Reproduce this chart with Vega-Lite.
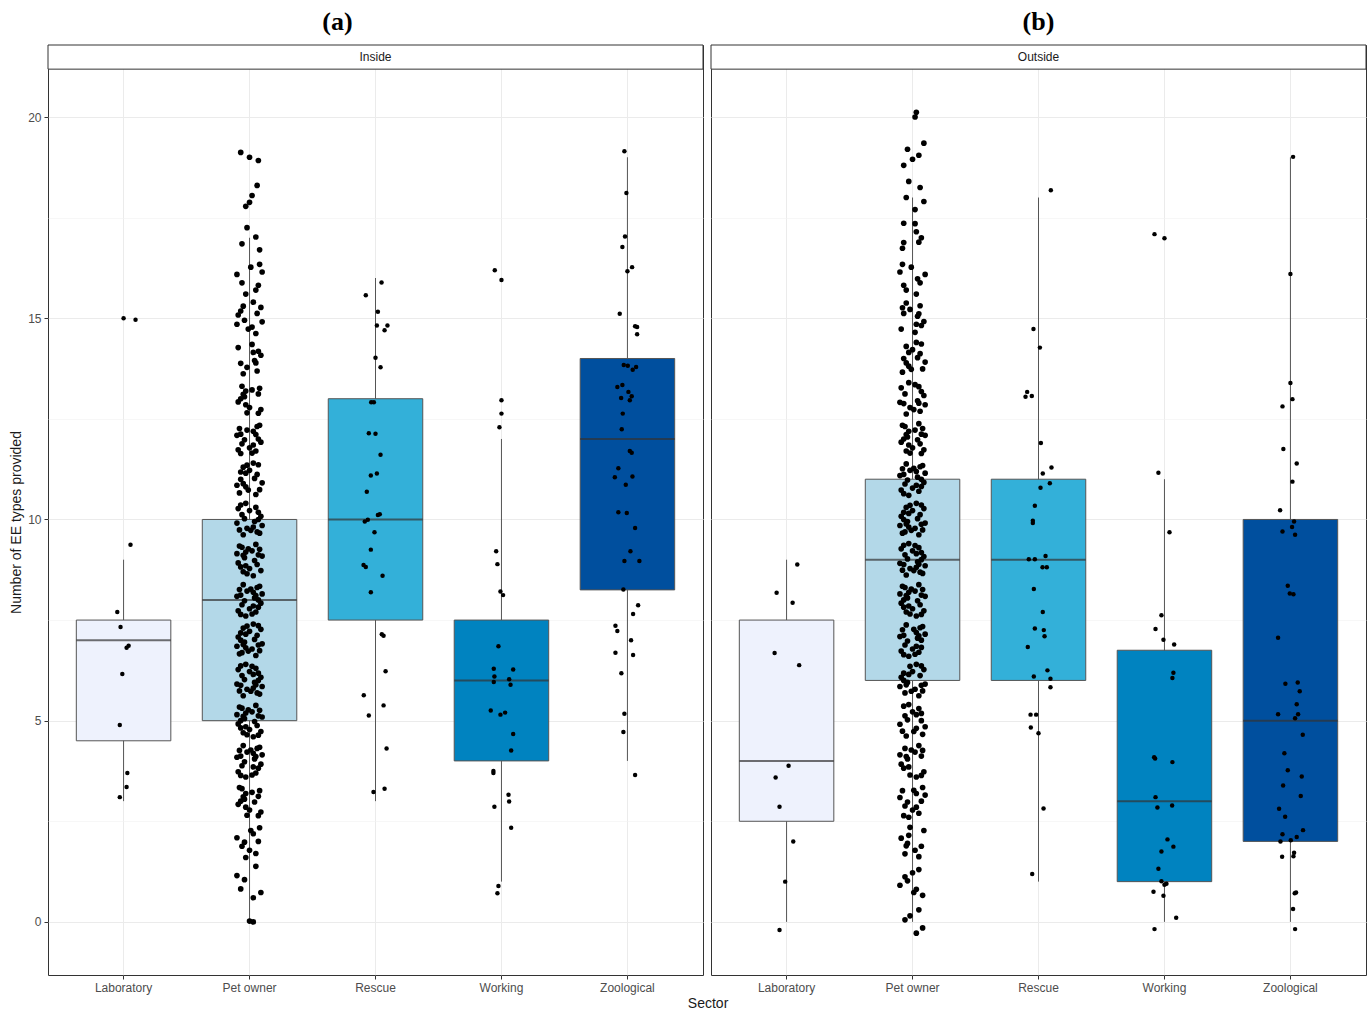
{
"$schema": "https://vega.github.io/schema/vega-lite/v6.json",
"background": "white",
"padding": {"left": 9, "top": 8, "right": 2, "bottom": 2},
"config": {
  "font": "Liberation Sans",
  "view": {"stroke": "#333333", "strokeWidth": 1},
  "axis": {"labelColor": "#4d4d4d", "labelFontSize": 12, "tickColor": "#333333", "tickSize": 4, "labelPadding": 3, "titleFontSize": 14, "titleFontWeight": "normal", "titleColor": "#1a1a1a", "gridColor": "#ebebeb", "domain": false}
},
"title": {"text": "Sector", "orient": "bottom", "anchor": "middle", "fontSize": 14, "fontWeight": "normal", "font": "Liberation Sans", "color": "#1a1a1a", "offset": 3, "dx": 20},
"spacing": 6,
"datasets": {
"boxI": [
{"s":"Laboratory","lo":3,"q1":4.5,"med":7,"q3":7.5,"hi":9},
{"s":"Pet owner","lo":0,"q1":5,"med":8,"q3":10,"hi":17},
{"s":"Rescue","lo":3,"q1":7.5,"med":10,"q3":13,"hi":16},
{"s":"Working","lo":1,"q1":4,"med":6,"q3":7.5,"hi":12},
{"s":"Zoological","lo":4,"q1":8.25,"med":12,"q3":14,"hi":19}
],
"boxO": [
{"s":"Laboratory","lo":0,"q1":2.5,"med":4,"q3":7.5,"hi":9},
{"s":"Pet owner","lo":0,"q1":6,"med":9,"q3":11,"hi":18},
{"s":"Rescue","lo":1,"q1":6,"med":9,"q3":11,"hi":18},
{"s":"Working","lo":0,"q1":1,"med":3,"q3":6.75,"hi":11},
{"s":"Zoological","lo":0,"q1":2,"med":5,"q3":10,"hi":19}
],
"othI": [
{"s":"Laboratory","y":15.0,"j":0.0},{"s":"Laboratory","y":14.96,"j":0.095},{"s":"Laboratory","y":9.37,"j":0.055},{"s":"Laboratory","y":7.7,"j":-0.05},{"s":"Laboratory","y":7.33,"j":-0.024},{"s":"Laboratory","y":6.86,"j":0.04},{"s":"Laboratory","y":6.81,"j":0.024},{"s":"Laboratory","y":6.16,"j":-0.01},{"s":"Laboratory","y":4.89,"j":-0.03},{"s":"Laboratory","y":3.7,"j":0.03},{"s":"Laboratory","y":3.35,"j":0.024},{"s":"Laboratory","y":3.1,"j":-0.03},
{"s":"Rescue","y":15.89,"j":0.048},{"s":"Rescue","y":15.57,"j":-0.077},{"s":"Rescue","y":15.16,"j":0.019},{"s":"Rescue","y":14.82,"j":0.011},{"s":"Rescue","y":14.82,"j":0.095},{"s":"Rescue","y":14.7,"j":0.072},{"s":"Rescue","y":14.02,"j":0.0},{"s":"Rescue","y":13.78,"j":0.04},{"s":"Rescue","y":12.91,"j":-0.034},{"s":"Rescue","y":12.91,"j":-0.013},{"s":"Rescue","y":12.14,"j":-0.053},{"s":"Rescue","y":12.13,"j":0.0},{"s":"Rescue","y":11.61,"j":0.04},{"s":"Rescue","y":11.09,"j":-0.037},{"s":"Rescue","y":11.14,"j":0.011},{"s":"Rescue","y":10.69,"j":-0.069},{"s":"Rescue","y":10.11,"j":0.019},{"s":"Rescue","y":10.13,"j":0.034},{"s":"Rescue","y":9.95,"j":-0.085},{"s":"Rescue","y":9.99,"j":-0.061},{"s":"Rescue","y":9.68,"j":-0.008},{"s":"Rescue","y":9.25,"j":-0.037},{"s":"Rescue","y":8.87,"j":-0.095},{"s":"Rescue","y":8.82,"j":-0.077},{"s":"Rescue","y":8.6,"j":0.056},{"s":"Rescue","y":8.19,"j":-0.037},{"s":"Rescue","y":7.15,"j":0.05},{"s":"Rescue","y":7.11,"j":0.064},{"s":"Rescue","y":6.23,"j":0.08},{"s":"Rescue","y":5.63,"j":-0.093},{"s":"Rescue","y":5.38,"j":0.064},{"s":"Rescue","y":5.13,"j":-0.053},{"s":"Rescue","y":4.31,"j":0.088},{"s":"Rescue","y":3.23,"j":-0.016},{"s":"Rescue","y":3.31,"j":0.072},
{"s":"Working","y":16.19,"j":-0.053},{"s":"Working","y":15.95,"j":0.0},{"s":"Working","y":12.96,"j":0.0},{"s":"Working","y":12.63,"j":0.0},{"s":"Working","y":12.29,"j":-0.016},{"s":"Working","y":9.21,"j":-0.042},{"s":"Working","y":8.89,"j":-0.032},{"s":"Working","y":8.21,"j":-0.008},{"s":"Working","y":8.12,"j":0.013},{"s":"Working","y":6.85,"j":-0.024},{"s":"Working","y":6.29,"j":-0.061},{"s":"Working","y":6.27,"j":0.093},{"s":"Working","y":6.1,"j":-0.056},{"s":"Working","y":5.96,"j":-0.061},{"s":"Working","y":6.03,"j":0.061},{"s":"Working","y":5.89,"j":0.072},{"s":"Working","y":5.25,"j":-0.085},{"s":"Working","y":5.15,"j":-0.008},{"s":"Working","y":5.2,"j":0.029},{"s":"Working","y":4.67,"j":0.093},{"s":"Working","y":4.26,"j":0.077},{"s":"Working","y":3.75,"j":-0.064},{"s":"Working","y":3.7,"j":-0.064},{"s":"Working","y":3.16,"j":0.056},{"s":"Working","y":2.99,"j":0.061},{"s":"Working","y":2.86,"j":-0.056},{"s":"Working","y":2.34,"j":0.077},{"s":"Working","y":0.89,"j":-0.024},{"s":"Working","y":0.71,"j":-0.032},
{"s":"Zoological","y":19.15,"j":-0.024},{"s":"Zoological","y":18.11,"j":-0.008},{"s":"Zoological","y":17.03,"j":-0.019},{"s":"Zoological","y":16.77,"j":-0.04},{"s":"Zoological","y":16.17,"j":0.0},{"s":"Zoological","y":16.27,"j":0.037},{"s":"Zoological","y":15.11,"j":-0.061},{"s":"Zoological","y":14.8,"j":0.061},{"s":"Zoological","y":14.78,"j":0.077},{"s":"Zoological","y":14.6,"j":0.077},{"s":"Zoological","y":13.84,"j":-0.029},{"s":"Zoological","y":13.82,"j":0.003},{"s":"Zoological","y":13.79,"j":0.069},{"s":"Zoological","y":13.72,"j":0.042},{"s":"Zoological","y":13.29,"j":-0.08},{"s":"Zoological","y":13.34,"j":-0.04},{"s":"Zoological","y":13.17,"j":0.008},{"s":"Zoological","y":13.02,"j":-0.05},{"s":"Zoological","y":13.06,"j":0.034},{"s":"Zoological","y":12.96,"j":0.019},{"s":"Zoological","y":12.63,"j":-0.037},{"s":"Zoological","y":12.24,"j":-0.045},{"s":"Zoological","y":11.7,"j":0.019},{"s":"Zoological","y":11.66,"j":0.034},{"s":"Zoological","y":11.27,"j":-0.072},{"s":"Zoological","y":11.05,"j":-0.1},{"s":"Zoological","y":11.07,"j":0.04},{"s":"Zoological","y":10.86,"j":-0.013},{"s":"Zoological","y":10.18,"j":-0.072},{"s":"Zoological","y":10.16,"j":-0.005},{"s":"Zoological","y":9.79,"j":0.061},{"s":"Zoological","y":9.21,"j":0.024},{"s":"Zoological","y":8.97,"j":-0.024},{"s":"Zoological","y":8.97,"j":0.095},{"s":"Zoological","y":8.26,"j":-0.032},{"s":"Zoological","y":7.87,"j":0.085},{"s":"Zoological","y":7.65,"j":0.045},{"s":"Zoological","y":7.36,"j":-0.095},{"s":"Zoological","y":7.23,"j":-0.08},{"s":"Zoological","y":7.0,"j":0.029},{"s":"Zoological","y":6.69,"j":-0.095},{"s":"Zoological","y":6.63,"j":0.045},{"s":"Zoological","y":6.18,"j":-0.048},{"s":"Zoological","y":5.17,"j":-0.024},{"s":"Zoological","y":4.72,"j":-0.032},{"s":"Zoological","y":3.65,"j":0.061}
],
"othO": [
{"s":"Laboratory","y":8.88,"j":0.085},{"s":"Laboratory","y":8.18,"j":-0.079},{"s":"Laboratory","y":7.93,"j":0.048},{"s":"Laboratory","y":6.68,"j":-0.095},{"s":"Laboratory","y":6.38,"j":0.1},{"s":"Laboratory","y":3.88,"j":0.016},{"s":"Laboratory","y":3.59,"j":-0.087},{"s":"Laboratory","y":2.86,"j":-0.056},{"s":"Laboratory","y":2.0,"j":0.053},{"s":"Laboratory","y":1.0,"j":-0.011},{"s":"Laboratory","y":-0.2,"j":-0.056},
{"s":"Rescue","y":18.18,"j":0.098},{"s":"Rescue","y":14.73,"j":-0.04},{"s":"Rescue","y":14.27,"j":0.011},{"s":"Rescue","y":13.17,"j":-0.09},{"s":"Rescue","y":13.07,"j":-0.053},{"s":"Rescue","y":13.05,"j":-0.103},{"s":"Rescue","y":11.9,"j":0.019},{"s":"Rescue","y":11.14,"j":0.034},{"s":"Rescue","y":11.29,"j":0.103},{"s":"Rescue","y":10.79,"j":0.016},{"s":"Rescue","y":10.9,"j":0.09},{"s":"Rescue","y":10.34,"j":-0.029},{"s":"Rescue","y":9.97,"j":-0.045},{"s":"Rescue","y":9.91,"j":-0.045},{"s":"Rescue","y":9.01,"j":-0.077},{"s":"Rescue","y":9.01,"j":-0.029},{"s":"Rescue","y":9.09,"j":0.056},{"s":"Rescue","y":8.81,"j":0.032},{"s":"Rescue","y":8.81,"j":0.066},{"s":"Rescue","y":8.27,"j":-0.037},{"s":"Rescue","y":7.7,"j":0.034},{"s":"Rescue","y":7.29,"j":-0.029},{"s":"Rescue","y":7.25,"j":0.042},{"s":"Rescue","y":7.1,"j":0.048},{"s":"Rescue","y":6.83,"j":-0.085},{"s":"Rescue","y":6.1,"j":-0.037},{"s":"Rescue","y":6.25,"j":0.071},{"s":"Rescue","y":6.04,"j":0.095},{"s":"Rescue","y":5.83,"j":0.095},{"s":"Rescue","y":5.15,"j":-0.063},{"s":"Rescue","y":5.15,"j":-0.019},{"s":"Rescue","y":4.83,"j":-0.061},{"s":"Rescue","y":4.69,"j":0.0},{"s":"Rescue","y":2.82,"j":0.04},{"s":"Rescue","y":1.19,"j":-0.05},
{"s":"Working","y":17.09,"j":-0.079},{"s":"Working","y":16.99,"j":0.0},{"s":"Working","y":11.16,"j":-0.048},{"s":"Working","y":9.68,"j":0.04},{"s":"Working","y":7.62,"j":-0.024},{"s":"Working","y":7.28,"j":-0.071},{"s":"Working","y":7.01,"j":-0.008},{"s":"Working","y":6.89,"j":0.077},{"s":"Working","y":6.19,"j":0.071},{"s":"Working","y":6.06,"j":0.063},{"s":"Working","y":4.09,"j":-0.082},{"s":"Working","y":4.06,"j":-0.074},{"s":"Working","y":3.97,"j":0.063},{"s":"Working","y":3.1,"j":-0.071},{"s":"Working","y":2.84,"j":-0.056},{"s":"Working","y":2.89,"j":0.061},{"s":"Working","y":2.05,"j":0.024},{"s":"Working","y":1.75,"j":-0.024},{"s":"Working","y":1.87,"j":0.071},{"s":"Working","y":1.32,"j":-0.048},{"s":"Working","y":1.01,"j":-0.024},{"s":"Working","y":0.92,"j":0.0},{"s":"Working","y":0.95,"j":0.016},{"s":"Working","y":0.75,"j":-0.087},{"s":"Working","y":0.65,"j":-0.008},{"s":"Working","y":0.1,"j":0.093},{"s":"Working","y":-0.18,"j":-0.079},
{"s":"Zoological","y":19.01,"j":0.021},{"s":"Zoological","y":16.1,"j":0.0},{"s":"Zoological","y":13.39,"j":0.0},{"s":"Zoological","y":12.99,"j":0.016},{"s":"Zoological","y":12.81,"j":-0.063},{"s":"Zoological","y":11.75,"j":-0.056},{"s":"Zoological","y":11.39,"j":0.05},{"s":"Zoological","y":10.94,"j":0.016},{"s":"Zoological","y":10.23,"j":-0.082},{"s":"Zoological","y":9.95,"j":0.029},{"s":"Zoological","y":9.81,"j":0.013},{"s":"Zoological","y":9.7,"j":-0.063},{"s":"Zoological","y":9.62,"j":0.037},{"s":"Zoological","y":8.35,"j":-0.021},{"s":"Zoological","y":8.16,"j":-0.005},{"s":"Zoological","y":8.14,"j":0.024},{"s":"Zoological","y":7.06,"j":-0.098},{"s":"Zoological","y":5.92,"j":-0.04},{"s":"Zoological","y":5.95,"j":0.058},{"s":"Zoological","y":5.73,"j":0.074},{"s":"Zoological","y":5.41,"j":0.05},{"s":"Zoological","y":5.16,"j":-0.098},{"s":"Zoological","y":5.16,"j":0.061},{"s":"Zoological","y":5.06,"j":0.037},{"s":"Zoological","y":4.65,"j":0.098},{"s":"Zoological","y":4.19,"j":-0.048},{"s":"Zoological","y":3.77,"j":-0.021},{"s":"Zoological","y":3.61,"j":0.09},{"s":"Zoological","y":3.39,"j":-0.058},{"s":"Zoological","y":3.13,"j":0.082},{"s":"Zoological","y":2.81,"j":-0.09},{"s":"Zoological","y":2.61,"j":-0.042},{"s":"Zoological","y":2.28,"j":0.1},{"s":"Zoological","y":2.18,"j":-0.063},{"s":"Zoological","y":2.11,"j":0.05},{"s":"Zoological","y":2.0,"j":-0.079},{"s":"Zoological","y":2.03,"j":0.003},{"s":"Zoological","y":1.62,"j":-0.066},{"s":"Zoological","y":1.72,"j":0.029},{"s":"Zoological","y":1.63,"j":0.024},{"s":"Zoological","y":0.71,"j":0.034},{"s":"Zoological","y":0.73,"j":0.045},{"s":"Zoological","y":0.32,"j":0.021},{"s":"Zoological","y":-0.18,"j":0.037}
],
"petI": [
{"y":0.02,"j":0.0},{"y":0.0,"j":0.03},
{"y":0.73,"j":0.09},{"y":1.05,"j":-0.04},{"y":1.38,"j":0.05},{"y":0.82,"j":-0.07},{"y":1.15,"j":-0.1},{"y":0.6,"j":0.03},
{"y":1.6,"j":-0.03},{"y":2.27,"j":0.01},{"y":1.88,"j":-0.06},{"y":2.09,"j":-0.1},{"y":1.7,"j":0.05},{"y":2.34,"j":0.08},{"y":1.98,"j":-0.04},{"y":2.19,"j":0.03},{"y":1.78,"j":0.0},{"y":2.0,"j":0.07},
{"y":3.34,"j":-0.08},{"y":2.98,"j":0.04},{"y":3.19,"j":-0.03},{"y":2.78,"j":0.0},{"y":3.0,"j":-0.07},{"y":2.64,"j":0.07},{"y":3.26,"j":0.08},{"y":2.85,"j":-0.03},{"y":3.11,"j":-0.05},{"y":2.65,"j":-0.02},{"y":3.12,"j":0.07},{"y":3.31,"j":-0.06},{"y":2.92,"j":-0.09},{"y":3.22,"j":0.02},{"y":2.73,"j":0.09},{"y":3.05,"j":-0.04},
{"y":3.64,"j":-0.07},{"y":4.26,"j":-0.08},{"y":3.85,"j":0.03},{"y":4.11,"j":0.05},{"y":3.65,"j":0.02},{"y":4.12,"j":-0.07},{"y":4.31,"j":0.06},{"y":3.92,"j":0.09},{"y":4.22,"j":-0.02},{"y":3.73,"j":-0.09},{"y":4.05,"j":0.04},{"y":4.38,"j":-0.05},{"y":3.82,"j":0.07},{"y":4.15,"j":0.1},{"y":3.6,"j":-0.03},{"y":4.27,"j":0.01},{"y":3.88,"j":-0.06},{"y":4.09,"j":-0.1},{"y":3.7,"j":0.05},{"y":4.34,"j":0.08},{"y":3.98,"j":-0.04},{"y":4.19,"j":0.03},
{"y":4.65,"j":-0.02},{"y":5.12,"j":0.07},{"y":5.31,"j":-0.06},{"y":4.92,"j":-0.09},{"y":5.22,"j":0.02},{"y":4.73,"j":0.09},{"y":5.05,"j":-0.04},{"y":5.38,"j":0.05},{"y":4.82,"j":-0.07},{"y":5.15,"j":-0.1},{"y":4.6,"j":0.03},{"y":5.27,"j":-0.01},{"y":4.88,"j":0.06},{"y":5.09,"j":0.1},{"y":4.7,"j":-0.05},{"y":5.34,"j":-0.08},{"y":4.98,"j":0.04},{"y":5.19,"j":-0.03},{"y":4.78,"j":0.0},{"y":5.0,"j":-0.07},{"y":4.64,"j":0.07},{"y":5.26,"j":0.08},{"y":4.85,"j":-0.03},{"y":5.11,"j":-0.05},
{"y":6.35,"j":0.02},{"y":5.88,"j":-0.07},{"y":5.69,"j":0.06},{"y":6.08,"j":0.09},{"y":5.78,"j":-0.02},{"y":6.27,"j":-0.09},{"y":5.95,"j":0.04},{"y":5.62,"j":-0.05},{"y":6.18,"j":0.07},{"y":5.85,"j":0.1},{"y":6.4,"j":-0.03},{"y":5.73,"j":0.01},{"y":6.12,"j":-0.06},{"y":5.91,"j":-0.1},{"y":6.3,"j":0.05},{"y":5.66,"j":0.08},{"y":6.02,"j":-0.04},{"y":5.81,"j":0.03},{"y":6.22,"j":0.0},{"y":6.0,"j":0.07},{"y":6.36,"j":-0.07},{"y":5.74,"j":-0.08},{"y":6.15,"j":0.03},{"y":5.89,"j":0.05},
{"y":7.35,"j":-0.02},{"y":6.88,"j":0.07},{"y":6.69,"j":-0.06},{"y":7.08,"j":-0.09},{"y":6.78,"j":0.02},{"y":7.27,"j":0.09},{"y":6.95,"j":-0.04},{"y":6.62,"j":0.05},{"y":7.18,"j":-0.07},{"y":6.85,"j":-0.1},{"y":7.4,"j":0.03},{"y":6.73,"j":-0.01},{"y":7.12,"j":0.06},{"y":6.91,"j":0.1},{"y":7.3,"j":-0.05},{"y":6.66,"j":-0.08},{"y":7.02,"j":0.04},{"y":6.81,"j":-0.03},{"y":7.22,"j":0.0},{"y":7.0,"j":-0.07},{"y":7.36,"j":0.07},{"y":6.74,"j":0.08},{"y":7.15,"j":-0.03},{"y":6.89,"j":-0.05},
{"y":7.65,"j":0.02},{"y":8.12,"j":-0.07},{"y":8.31,"j":0.06},{"y":7.92,"j":0.09},{"y":8.22,"j":-0.02},{"y":7.73,"j":-0.09},{"y":8.05,"j":0.04},{"y":8.38,"j":-0.05},{"y":7.82,"j":0.07},{"y":8.15,"j":0.1},{"y":7.6,"j":-0.03},{"y":8.27,"j":0.01},{"y":7.88,"j":-0.06},{"y":8.09,"j":-0.1},{"y":7.7,"j":0.05},{"y":8.34,"j":0.08},{"y":7.98,"j":-0.04},{"y":8.19,"j":0.03},{"y":7.78,"j":0.0},{"y":8.0,"j":0.07},{"y":7.64,"j":-0.07},{"y":8.26,"j":-0.08},{"y":7.85,"j":0.03},{"y":8.11,"j":0.05},
{"y":9.26,"j":0.08},{"y":8.85,"j":-0.03},{"y":9.11,"j":-0.05},{"y":8.65,"j":-0.02},{"y":9.12,"j":0.07},{"y":9.31,"j":-0.06},{"y":8.92,"j":-0.09},{"y":9.22,"j":0.02},{"y":8.73,"j":0.09},{"y":9.05,"j":-0.04},{"y":9.38,"j":0.05},{"y":8.82,"j":-0.07},{"y":9.15,"j":-0.1},{"y":8.6,"j":0.03},{"y":9.27,"j":-0.01},{"y":8.88,"j":0.06},{"y":9.09,"j":0.1},{"y":8.7,"j":-0.05},{"y":9.34,"j":-0.08},{"y":8.98,"j":0.04},{"y":9.19,"j":-0.03},{"y":8.78,"j":0.0},
{"y":9.69,"j":0.06},{"y":10.08,"j":0.09},{"y":9.78,"j":-0.02},{"y":10.27,"j":-0.09},{"y":9.95,"j":0.04},{"y":9.62,"j":-0.05},{"y":10.18,"j":0.07},{"y":9.85,"j":0.1},{"y":10.4,"j":-0.03},{"y":9.73,"j":0.01},{"y":10.12,"j":-0.06},{"y":9.91,"j":-0.1},{"y":10.3,"j":0.05},{"y":9.66,"j":0.08},{"y":10.02,"j":-0.04},{"y":9.81,"j":0.03},{"y":10.22,"j":0.0},{"y":10.0,"j":0.07},{"y":10.36,"j":-0.07},{"y":9.74,"j":-0.08},
{"y":10.62,"j":0.05},{"y":11.18,"j":-0.07},{"y":10.85,"j":-0.1},{"y":11.4,"j":0.03},{"y":10.73,"j":-0.01},{"y":11.12,"j":0.06},{"y":10.91,"j":0.1},{"y":11.3,"j":-0.05},{"y":10.66,"j":-0.08},{"y":11.02,"j":0.04},{"y":10.81,"j":-0.03},{"y":11.22,"j":0.0},{"y":11.0,"j":-0.07},{"y":11.36,"j":0.07},{"y":10.74,"j":0.08},{"y":11.15,"j":-0.03},{"y":10.89,"j":-0.05},{"y":11.35,"j":-0.02},
{"y":11.88,"j":-0.06},{"y":12.09,"j":-0.1},{"y":11.7,"j":0.05},{"y":12.34,"j":0.08},{"y":11.98,"j":-0.04},{"y":12.19,"j":0.03},{"y":11.78,"j":0.0},{"y":12.0,"j":0.07},{"y":11.64,"j":-0.07},{"y":12.26,"j":-0.08},{"y":11.85,"j":0.03},{"y":12.11,"j":0.05},{"y":11.65,"j":0.02},{"y":12.12,"j":-0.07},{"y":12.31,"j":0.06},{"y":11.92,"j":0.09},{"y":12.22,"j":-0.02},{"y":11.73,"j":-0.09},
{"y":13.19,"j":-0.03},{"y":12.78,"j":0.0},{"y":13.0,"j":-0.07},{"y":12.64,"j":0.07},{"y":13.26,"j":0.08},{"y":12.85,"j":-0.03},{"y":13.11,"j":-0.05},{"y":12.65,"j":-0.02},{"y":13.12,"j":0.07},{"y":13.31,"j":-0.06},{"y":12.92,"j":-0.09},{"y":13.22,"j":0.02},{"y":12.73,"j":0.09},{"y":13.05,"j":-0.04},
{"y":14.15,"j":0.03},{"y":13.89,"j":0.05},{"y":14.35,"j":0.02},{"y":13.88,"j":-0.07},{"y":13.69,"j":0.06},{"y":14.08,"j":0.09},{"y":13.78,"j":-0.02},{"y":14.27,"j":-0.09},{"y":13.95,"j":0.04},{"y":13.62,"j":-0.05},{"y":14.18,"j":0.07},
{"y":15.08,"j":-0.09},{"y":14.78,"j":0.02},{"y":15.27,"j":0.09},{"y":14.95,"j":-0.04},{"y":14.62,"j":0.05},{"y":15.18,"j":-0.07},{"y":14.85,"j":-0.1},{"y":15.4,"j":0.03},{"y":14.73,"j":-0.01},{"y":15.12,"j":0.06},{"y":14.91,"j":0.1},{"y":15.3,"j":-0.05},
{"y":15.82,"j":0.07},{"y":16.15,"j":0.1},{"y":15.6,"j":-0.03},{"y":16.27,"j":0.01},{"y":15.88,"j":-0.06},{"y":16.09,"j":-0.1},{"y":15.7,"j":0.05},{"y":16.34,"j":0.08},
{"y":16.85,"j":-0.06},{"y":17.02,"j":0.05},{"y":17.25,"j":-0.02},{"y":16.7,"j":0.08},
{"y":17.78,"j":-0.03},{"y":17.88,"j":0.0},{"y":18.05,"j":0.02},{"y":18.3,"j":0.06},
{"y":19.12,"j":-0.07},{"y":19.0,"j":0.0},{"y":18.92,"j":0.07}
],
"petO": [
{"y":-0.28,"j":0.03},{"y":-0.15,"j":0.08},{"y":0.05,"j":-0.06},{"y":0.15,"j":-0.02},{"y":0.3,"j":0.05},
{"y":0.73,"j":0.01},{"y":1.12,"j":-0.06},{"y":0.91,"j":-0.1},{"y":1.3,"j":0.05},{"y":0.66,"j":0.08},{"y":1.02,"j":-0.04},{"y":0.81,"j":0.03},{"y":1.22,"j":0.0},
{"y":2.15,"j":-0.03},{"y":1.89,"j":-0.05},{"y":2.35,"j":-0.02},{"y":1.88,"j":0.07},{"y":1.69,"j":-0.06},{"y":2.08,"j":-0.09},{"y":1.78,"j":0.02},{"y":2.27,"j":0.09},{"y":1.95,"j":-0.04},{"y":1.62,"j":0.05},
{"y":3.15,"j":0.1},{"y":2.6,"j":-0.03},{"y":3.27,"j":0.01},{"y":2.88,"j":-0.06},{"y":3.09,"j":-0.1},{"y":2.7,"j":0.05},{"y":3.34,"j":0.08},{"y":2.98,"j":-0.04},{"y":3.19,"j":0.03},{"y":2.78,"j":0.0},{"y":3.0,"j":0.07},{"y":2.64,"j":-0.07},{"y":3.26,"j":-0.08},{"y":2.85,"j":0.03},
{"y":3.64,"j":0.07},{"y":4.26,"j":0.08},{"y":3.85,"j":-0.03},{"y":4.11,"j":-0.05},{"y":3.65,"j":-0.02},{"y":4.12,"j":0.07},{"y":4.31,"j":-0.06},{"y":3.92,"j":-0.09},{"y":4.22,"j":0.02},{"y":3.73,"j":0.09},{"y":4.05,"j":-0.04},{"y":4.38,"j":0.05},{"y":3.82,"j":-0.07},{"y":4.15,"j":-0.1},{"y":3.6,"j":0.03},{"y":4.27,"j":-0.01},
{"y":4.62,"j":-0.05},{"y":5.18,"j":0.07},{"y":4.85,"j":0.1},{"y":5.4,"j":-0.03},{"y":4.73,"j":0.01},{"y":5.12,"j":-0.06},{"y":4.91,"j":-0.1},{"y":5.3,"j":0.05},{"y":4.66,"j":0.08},{"y":5.02,"j":-0.04},{"y":4.81,"j":0.03},{"y":5.22,"j":0.0},{"y":5.0,"j":0.07},{"y":5.36,"j":-0.07},{"y":4.74,"j":-0.08},{"y":5.15,"j":0.03},
{"y":6.22,"j":0.0},{"y":6.0,"j":-0.07},{"y":6.36,"j":0.07},{"y":5.74,"j":0.08},{"y":6.15,"j":-0.03},{"y":5.89,"j":-0.05},{"y":6.35,"j":-0.02},{"y":5.88,"j":0.07},{"y":5.69,"j":-0.06},{"y":6.08,"j":-0.09},{"y":5.78,"j":0.02},{"y":6.27,"j":0.09},{"y":5.95,"j":-0.04},{"y":5.62,"j":0.05},{"y":6.18,"j":-0.07},{"y":5.85,"j":-0.1},{"y":6.4,"j":0.03},{"y":5.73,"j":-0.01},{"y":6.12,"j":0.06},{"y":5.91,"j":0.1},
{"y":6.73,"j":-0.09},{"y":7.05,"j":0.04},{"y":7.38,"j":-0.05},{"y":6.82,"j":0.07},{"y":7.15,"j":0.1},{"y":6.6,"j":-0.03},{"y":7.27,"j":0.01},{"y":6.88,"j":-0.06},{"y":7.09,"j":-0.1},{"y":6.7,"j":0.05},{"y":7.34,"j":0.08},{"y":6.98,"j":-0.04},{"y":7.19,"j":0.03},{"y":6.78,"j":0.0},{"y":7.0,"j":0.07},{"y":6.64,"j":-0.07},{"y":7.26,"j":-0.08},{"y":6.85,"j":0.03},{"y":7.11,"j":0.05},{"y":6.65,"j":0.02},{"y":7.12,"j":-0.07},{"y":7.31,"j":0.06},
{"y":7.65,"j":-0.02},{"y":8.12,"j":0.07},{"y":8.31,"j":-0.06},{"y":7.92,"j":-0.09},{"y":8.22,"j":0.02},{"y":7.73,"j":0.09},{"y":8.05,"j":-0.04},{"y":8.38,"j":0.05},{"y":7.82,"j":-0.07},{"y":8.15,"j":-0.1},{"y":7.6,"j":0.03},{"y":8.27,"j":-0.01},{"y":7.88,"j":0.06},{"y":8.09,"j":0.1},{"y":7.7,"j":-0.05},{"y":8.34,"j":-0.08},{"y":7.98,"j":0.04},{"y":8.19,"j":-0.03},{"y":7.78,"j":0.0},{"y":8.0,"j":-0.07},{"y":7.64,"j":0.07},{"y":8.26,"j":0.08},{"y":7.85,"j":-0.03},{"y":8.11,"j":-0.05},
{"y":9.35,"j":0.02},{"y":8.88,"j":-0.07},{"y":8.69,"j":0.06},{"y":9.08,"j":0.09},{"y":8.78,"j":-0.02},{"y":9.27,"j":-0.09},{"y":8.95,"j":0.04},{"y":8.62,"j":-0.05},{"y":9.18,"j":0.07},{"y":8.85,"j":0.1},{"y":9.4,"j":-0.03},{"y":8.73,"j":0.01},{"y":9.12,"j":-0.06},{"y":8.91,"j":-0.1},{"y":9.3,"j":0.05},{"y":8.66,"j":0.08},{"y":9.02,"j":-0.04},{"y":8.81,"j":0.03},{"y":9.22,"j":0.0},{"y":9.0,"j":0.07},{"y":9.36,"j":-0.07},{"y":8.74,"j":-0.08},{"y":9.15,"j":0.03},{"y":8.89,"j":0.05},
{"y":10.35,"j":-0.02},{"y":9.88,"j":0.07},{"y":9.69,"j":-0.06},{"y":10.08,"j":-0.09},{"y":9.78,"j":0.02},{"y":10.27,"j":0.09},{"y":9.95,"j":-0.04},{"y":9.62,"j":0.05},{"y":10.18,"j":-0.07},{"y":9.85,"j":-0.1},{"y":10.4,"j":0.03},{"y":9.73,"j":-0.01},{"y":10.12,"j":0.06},{"y":9.91,"j":0.1},{"y":10.3,"j":-0.05},{"y":9.66,"j":-0.08},{"y":10.02,"j":0.04},{"y":9.81,"j":-0.03},{"y":10.22,"j":0.0},{"y":10.0,"j":-0.07},{"y":10.36,"j":0.07},{"y":9.74,"j":0.08},{"y":10.15,"j":-0.03},{"y":9.89,"j":-0.05},
{"y":11.12,"j":-0.07},{"y":11.31,"j":0.06},{"y":10.92,"j":0.09},{"y":11.22,"j":-0.02},{"y":10.73,"j":-0.09},{"y":11.05,"j":0.04},{"y":11.38,"j":-0.05},{"y":10.82,"j":0.07},{"y":11.15,"j":0.1},{"y":10.6,"j":-0.03},{"y":11.27,"j":0.01},{"y":10.88,"j":-0.06},{"y":11.09,"j":-0.1},{"y":10.7,"j":0.05},{"y":11.34,"j":0.08},{"y":10.98,"j":-0.04},{"y":11.19,"j":0.03},{"y":10.78,"j":0.0},{"y":11.0,"j":0.07},{"y":10.64,"j":-0.07},{"y":11.26,"j":-0.08},{"y":10.85,"j":0.03},
{"y":11.88,"j":0.06},{"y":12.09,"j":0.1},{"y":11.7,"j":-0.05},{"y":12.34,"j":-0.08},{"y":11.98,"j":0.04},{"y":12.19,"j":-0.03},{"y":11.78,"j":0.0},{"y":12.0,"j":-0.07},{"y":11.64,"j":0.07},{"y":12.26,"j":0.08},{"y":11.85,"j":-0.03},{"y":12.11,"j":-0.05},{"y":11.65,"j":-0.02},{"y":12.12,"j":0.07},{"y":12.31,"j":-0.06},{"y":11.92,"j":-0.09},{"y":12.22,"j":0.02},{"y":11.73,"j":0.09},{"y":12.05,"j":-0.04},{"y":12.38,"j":0.05},
{"y":12.89,"j":0.05},{"y":13.35,"j":0.02},{"y":12.88,"j":-0.07},{"y":12.69,"j":0.06},{"y":13.08,"j":0.09},{"y":12.78,"j":-0.02},{"y":13.27,"j":-0.09},{"y":12.95,"j":0.04},{"y":12.62,"j":-0.05},{"y":13.18,"j":0.07},{"y":12.85,"j":0.1},{"y":13.4,"j":-0.03},{"y":12.73,"j":0.01},{"y":13.12,"j":-0.06},{"y":12.91,"j":-0.1},{"y":13.3,"j":0.05},
{"y":14.4,"j":0.03},{"y":13.73,"j":-0.01},{"y":14.12,"j":0.06},{"y":13.91,"j":0.1},{"y":14.3,"j":-0.05},{"y":13.66,"j":-0.08},{"y":14.02,"j":0.04},{"y":13.81,"j":-0.03},{"y":14.22,"j":0.0},{"y":14.0,"j":-0.07},{"y":14.36,"j":0.07},{"y":13.74,"j":0.08},{"y":14.15,"j":-0.03},{"y":13.89,"j":-0.05},
{"y":15.26,"j":-0.08},{"y":14.85,"j":0.03},{"y":15.11,"j":0.05},{"y":14.65,"j":0.02},{"y":15.12,"j":-0.07},{"y":15.31,"j":0.06},{"y":14.92,"j":0.09},{"y":15.22,"j":-0.02},{"y":14.73,"j":-0.09},{"y":15.05,"j":0.04},{"y":15.38,"j":-0.05},{"y":14.82,"j":0.07},
{"y":15.82,"j":-0.07},{"y":16.15,"j":-0.1},{"y":15.6,"j":0.03},{"y":16.27,"j":-0.01},{"y":15.88,"j":0.06},{"y":16.09,"j":0.1},{"y":15.7,"j":-0.05},{"y":16.34,"j":-0.08},{"y":15.98,"j":0.04},
{"y":17.0,"j":0.07},{"y":17.36,"j":-0.07},{"y":16.74,"j":-0.08},{"y":17.15,"j":0.03},{"y":16.89,"j":0.05},{"y":17.35,"j":0.02},{"y":16.88,"j":-0.07},
{"y":17.7,"j":0.02},{"y":18.0,"j":-0.05},{"y":18.25,"j":0.06},{"y":18.4,"j":-0.03},{"y":17.9,"j":0.09},
{"y":18.8,"j":-0.07},{"y":19.05,"j":0.05},{"y":19.2,"j":-0.04},{"y":19.35,"j":0.09},{"y":18.95,"j":0.0},
{"y":20.0,"j":0.02},{"y":20.12,"j":0.03}
]
},
"hconcat": [
{
 "width": 655, "height": 930,
 "title": {"text": "(a)", "font": "Liberation Serif", "fontSize": 26, "fontWeight": "bold", "anchor": "middle", "frame": "group", "dx": -38, "offset": 10, "color": "black"},
 "resolve": {"axis": {"y": "independent"}},
 "layer": [
  {"data": {"name": "boxI"}, "mark": {"type": "rule", "color": "#555555", "strokeWidth": 1},
   "encoding": {
    "x": {"field": "s", "type": "nominal", "scale": {"domain": ["Laboratory","Pet owner","Rescue","Working","Zoological"], "paddingInner": 0, "paddingOuter": 0.1}, "axis": {"title": null, "bandPosition": 0.5, "grid": true, "gridColor": "#ebebeb", "labelAngle": 0}},
    "y": {"field": "lo", "type": "quantitative", "scale": {"domain": [-1.32, 21.79], "nice": false, "zero": false}, "axis": {"orient": "left", "values": [2.5, 7.5, 12.5, 17.5], "grid": true, "gridColor": "#f2f2f2", "gridWidth": 0.6, "labels": false, "ticks": false, "title": null}},
    "y2": {"field": "hi"}}},
  {"data": {"name": "boxI"}, "mark": {"type": "bar", "width": 94.5, "stroke": "#555555", "strokeWidth": 1},
   "encoding": {
    "x": {"field": "s", "type": "nominal"},
    "y": {"field": "q1", "type": "quantitative", "axis": {"orient": "left", "values": [0, 5, 10, 15, 20], "grid": true, "gridColor": "#ebebeb", "title": "Number of EE types provided", "titlePadding": 4, "titleY": 477}},
    "y2": {"field": "q3"},
    "color": {"field": "s", "type": "nominal", "scale": {"domain": ["Laboratory","Pet owner","Rescue","Working","Zoological"], "range": ["#eef2fd","#b3d8e8","#33b0d9","#0083c0","#004f9e"]}, "legend": null}}},
  {"data": {"name": "boxI"}, "mark": {"type": "tick", "color": "#333333", "thickness": 2, "size": 94.5},
   "encoding": {"x": {"field": "s", "type": "nominal"}, "y": {"field": "med", "type": "quantitative", "axis": null}}},
  {"data": {"name": "othI"}, "mark": {"type": "circle", "size": 20, "color": "black", "opacity": 1},
   "encoding": {"x": {"field": "s", "type": "nominal"}, "xOffset": {"field": "j", "type": "quantitative", "scale": {"domain": [-0.5, 0.5]}}, "y": {"field": "y", "type": "quantitative", "axis": null}}},
  {"data": {"name": "petI"}, "mark": {"type": "circle", "size": 32, "color": "black", "opacity": 1},
   "encoding": {"x": {"datum": "Pet owner", "type": "nominal"}, "xOffset": {"field": "j", "type": "quantitative", "scale": {"domain": [-0.5, 0.5]}}, "y": {"field": "y", "type": "quantitative", "axis": null}}},
  {"data": {"values": [{"f": "Inside"}]}, "mark": {"type": "rect", "fill": "white", "stroke": "#333333", "strokeWidth": 1},
   "encoding": {"y": {"datum": 21.19, "type": "quantitative", "axis": null}, "y2": {"datum": 21.79}}},
  {"data": {"values": [{"f": "Inside"}]}, "mark": {"type": "text", "fontSize": 12, "color": "#1a1a1a"},
   "encoding": {"y": {"datum": 21.49, "type": "quantitative", "axis": null}, "text": {"field": "f"}}}
 ]
},
{
 "width": 655, "height": 930,
 "title": {"text": "(b)", "font": "Liberation Serif", "fontSize": 26, "fontWeight": "bold", "anchor": "middle", "frame": "group", "offset": 10, "color": "black"},
 "resolve": {"axis": {"y": "independent"}},
 "layer": [
  {"data": {"name": "boxO"}, "mark": {"type": "rule", "color": "#555555", "strokeWidth": 1},
   "encoding": {
    "x": {"field": "s", "type": "nominal", "scale": {"domain": ["Laboratory","Pet owner","Rescue","Working","Zoological"], "paddingInner": 0, "paddingOuter": 0.1}, "axis": {"title": null, "bandPosition": 0.5, "grid": true, "gridColor": "#ebebeb", "labelAngle": 0}},
    "y": {"field": "lo", "type": "quantitative", "scale": {"domain": [-1.32, 21.79], "nice": false, "zero": false}, "axis": {"orient": "left", "values": [2.5, 7.5, 12.5, 17.5], "grid": true, "gridColor": "#f2f2f2", "gridWidth": 0.6, "labels": false, "ticks": false, "title": null}},
    "y2": {"field": "hi"}}},
  {"data": {"name": "boxO"}, "mark": {"type": "bar", "width": 94.5, "stroke": "#555555", "strokeWidth": 1},
   "encoding": {
    "x": {"field": "s", "type": "nominal"},
    "y": {"field": "q1", "type": "quantitative", "axis": {"orient": "left", "values": [0, 5, 10, 15, 20], "grid": true, "gridColor": "#ebebeb", "labels": false, "ticks": false, "title": null}},
    "y2": {"field": "q3"},
    "color": {"field": "s", "type": "nominal", "scale": {"domain": ["Laboratory","Pet owner","Rescue","Working","Zoological"], "range": ["#eef2fd","#b3d8e8","#33b0d9","#0083c0","#004f9e"]}, "legend": null}}},
  {"data": {"name": "boxO"}, "mark": {"type": "tick", "color": "#333333", "thickness": 2, "size": 94.5},
   "encoding": {"x": {"field": "s", "type": "nominal"}, "y": {"field": "med", "type": "quantitative", "axis": null}}},
  {"data": {"name": "othO"}, "mark": {"type": "circle", "size": 20, "color": "black", "opacity": 1},
   "encoding": {"x": {"field": "s", "type": "nominal"}, "xOffset": {"field": "j", "type": "quantitative", "scale": {"domain": [-0.5, 0.5]}}, "y": {"field": "y", "type": "quantitative", "axis": null}}},
  {"data": {"name": "petO"}, "mark": {"type": "circle", "size": 32, "color": "black", "opacity": 1},
   "encoding": {"x": {"datum": "Pet owner", "type": "nominal"}, "xOffset": {"field": "j", "type": "quantitative", "scale": {"domain": [-0.5, 0.5]}}, "y": {"field": "y", "type": "quantitative", "axis": null}}},
  {"data": {"values": [{"f": "Outside"}]}, "mark": {"type": "rect", "fill": "white", "stroke": "#333333", "strokeWidth": 1},
   "encoding": {"y": {"datum": 21.19, "type": "quantitative", "axis": null}, "y2": {"datum": 21.79}}},
  {"data": {"values": [{"f": "Outside"}]}, "mark": {"type": "text", "fontSize": 12, "color": "#1a1a1a"},
   "encoding": {"y": {"datum": 21.49, "type": "quantitative", "axis": null}, "text": {"field": "f"}}}
 ]
}
]
}
